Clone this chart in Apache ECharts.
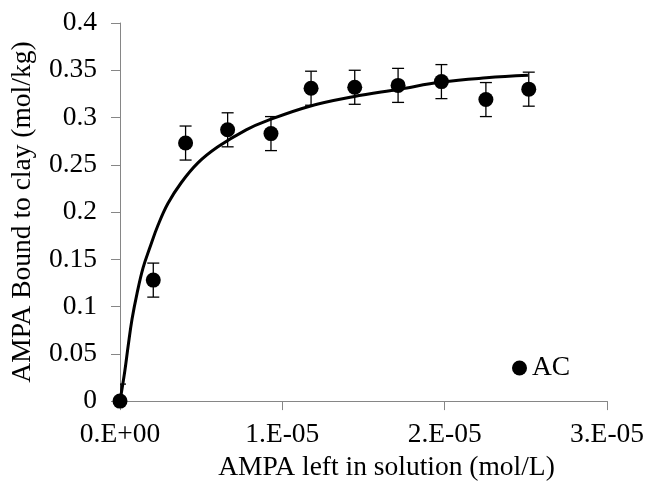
<!DOCTYPE html>
<html>
<head>
<meta charset="utf-8">
<script src="https://cdn.jsdelivr.net/npm/echarts@6/dist/echarts.min.js"></script>
<style>html,body{margin:0;padding:0;background:#fff;overflow:hidden}#c{width:650px;height:487px}</style>
</head>
<body>
<div id="c"></div>
<script>
// Measured points (AC)
var xValues = [0, 0.205e-5, 0.404e-5, 0.663e-5, 0.930e-5, 1.177e-5, 1.446e-5, 1.713e-5, 1.980e-5, 2.254e-5, 2.518e-5];
var yValues = [0, 0.128, 0.273, 0.287, 0.283, 0.331, 0.332, 0.334, 0.338, 0.319, 0.330];
var yErrors = [0.018, 0.018, 0.018, 0.018, 0.018, 0.018, 0.018, 0.018, 0.018, 0.018, 0.018];
// Fitted curve
var curveX = [0, 0.029e-5, 0.05e-5, 0.074e-5, 0.105e-5, 0.142e-5, 0.183e-5, 0.234e-5, 0.295e-5, 0.377e-5, 0.48e-5, 0.603e-5, 0.777e-5, 0.903e-5, 1.169e-5, 1.436e-5, 1.723e-5, 1.98e-5, 2.257e-5, 2.513e-5];
var curveY = [0, 0.031, 0.058, 0.0865, 0.114, 0.141, 0.162, 0.186, 0.209, 0.231, 0.252, 0.269, 0.287, 0.2965, 0.312, 0.322, 0.330, 0.3375, 0.342, 0.3446];
var xTickLabels = ['0.E+00', '1.E-05', '2.E-05', '3.E-05'];
var seriesName = 'AC';

var FONT = 'Liberation Serif';
var FS = 27.5;
var pts = xValues.map(function (x, i) { return [x, yValues[i]]; });
var errs = xValues.map(function (x, i) { return [x, yValues[i] - yErrors[i], yValues[i] + yErrors[i]]; });
var curve = curveX.map(function (x, i) { return [x, curveY[i]]; });

var chart = echarts.init(document.getElementById('c'), null, {renderer: 'canvas', width: 650, height: 487});
chart.setOption({
  animation: false,
  backgroundColor: '#fff',
  grid: {left: 120, right: 43, top: 23, bottom: 76.5, containLabel: false},
  legend: {
    data: [seriesName],
    left: 507, top: 349,
    itemWidth: 15, itemHeight: 15, icon: 'circle',
    itemStyle: {opacity: 1},
    textStyle: {fontFamily: FONT, fontSize: FS, color: '#000'}
  },
  xAxis: {
    type: 'value', min: 0, max: 3e-5, interval: 1e-5,
    name: 'AMPA left in solution (mol/L)', nameLocation: 'middle', nameGap: 50,
    nameTextStyle: {fontFamily: FONT, fontSize: FS, color: '#000', padding: [0, 0, 0, 46]},
    axisLine: {show: true, lineStyle: {color: '#868686', width: 1}},
    axisTick: {show: true, inside: false, length: 9, lineStyle: {color: '#868686'}},
    splitLine: {show: false},
    axisLabel: {
      fontFamily: FONT, fontSize: FS, color: '#000', margin: 20,
      formatter: function (v) { var i = Math.round(v / 1e-5); return xTickLabels[i]; }
    }
  },
  yAxis: {
    type: 'value', min: 0, max: 0.4, interval: 0.05,
    name: 'AMPA Bound to clay (mol/kg)', nameLocation: 'middle', nameGap: 83, nameRotate: 90,
    nameTextStyle: {fontFamily: FONT, fontSize: FS, color: '#000'},
    axisLine: {show: true, lineStyle: {color: '#868686', width: 1}},
    axisTick: {show: true, inside: false, length: 9, lineStyle: {color: '#868686'}},
    splitLine: {show: false},
    axisLabel: {fontFamily: FONT, fontSize: FS, color: '#000', margin: 23}
  },
  series: [
    {
      name: 'fit', type: 'line', data: curve, smooth: 0.4, symbol: 'none',
      lineStyle: {color: '#000', width: 3}, z: 2
    },
    {
      name: 'err', type: 'custom', data: errs, clip: true, z: 3,
      renderItem: function (params, api) {
        var x = api.value(0);
        var lo = api.coord([x, api.value(1)]);
        var hi = api.coord([x, api.value(2)]);
        var hw = 6;
        var st = {stroke: '#000', lineWidth: 1.3};
        return {type: 'group', children: [
          {type: 'line', shape: {x1: lo[0], y1: lo[1], x2: hi[0], y2: hi[1]}, style: st},
          {type: 'line', shape: {x1: lo[0] - hw, y1: lo[1], x2: lo[0] + hw, y2: lo[1]}, style: st},
          {type: 'line', shape: {x1: hi[0] - hw, y1: hi[1], x2: hi[0] + hw, y2: hi[1]}, style: st}
        ]};
      }
    },
    {
      name: seriesName, type: 'scatter', data: pts, symbol: 'circle', symbolSize: 15,
      itemStyle: {color: '#000', opacity: 1}, z: 4
    }
  ]
});
</script>
</body>
</html>
